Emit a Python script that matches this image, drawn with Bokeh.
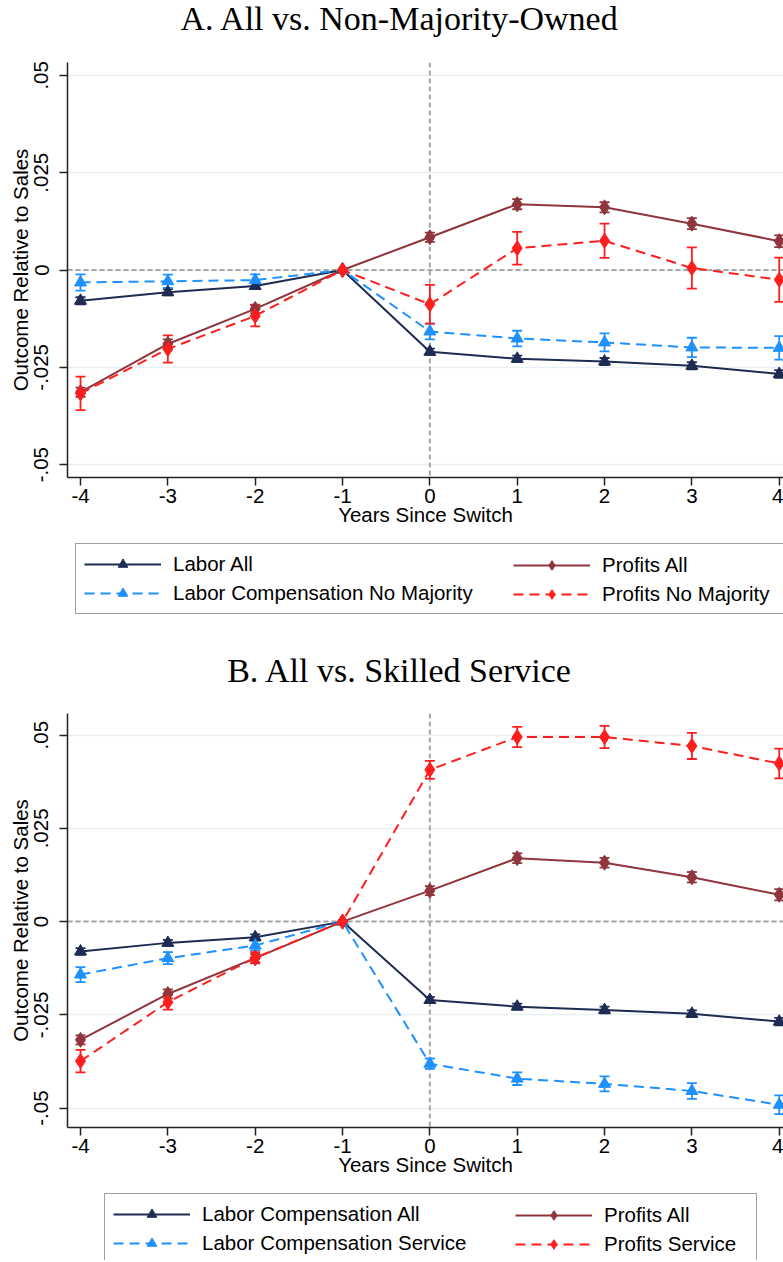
import math
from bokeh.plotting import figure
from bokeh.models import (ColumnDataSource, Range1d, FixedTicker, Span, Whisker, TeeHead,
                          Legend, LegendItem, Label)
from bokeh.layouts import column
from bokeh.embed import file_html
from bokeh.resources import INLINE

# ---------------- data ----------------
years = [-4, -3, -2, -1, 0, 1, 2, 3, 4]
x_tick_labels = ["-4", "-3", "-2", "-1", "0", "1", "2", "3", "4"]
y_ticks = [-0.05, -0.025, 0, 0.025, 0.05]
y_tick_labels = ["-.05", "-.025", "0", ".025", ".05"]
ref_value = 0
switch_year = 0

# Panel A: All vs. Non-Majority-Owned
a_labor_all = [-0.0079, -0.0057, -0.0041, 0, -0.0210, -0.0228, -0.0235, -0.0246, -0.0267]
a_labor_all_err = [0.0009, 0.0008, 0.0008, 0, 0.0008, 0.0008, 0.0009, 0.0009, 0.0010]
a_labor_nm = [-0.0032, -0.0029, -0.0026, 0, -0.0158, -0.0176, -0.0186, -0.0199, -0.0200]
a_labor_nm_err = [0.0021, 0.0017, 0.0015, 0, 0.0020, 0.0020, 0.0023, 0.0025, 0.0030]
a_profit_all = [-0.0314, -0.0190, -0.0100, 0, 0.0084, 0.0169, 0.0161, 0.0119, 0.0074]
a_profit_all_err = [0.0012, 0.0012, 0.0011, 0, 0.0012, 0.0013, 0.0013, 0.0014, 0.0015]
a_profit_nm = [-0.0317, -0.0203, -0.0118, 0, -0.0088, 0.0056, 0.0075, 0.0005, -0.0025]
a_profit_nm_err = [0.0043, 0.0035, 0.0027, 0, 0.0050, 0.0042, 0.0044, 0.0053, 0.0057]

# Panel B: All vs. Skilled Service
b_labor_all = [-0.0080, -0.0057, -0.0042, 0, -0.0210, -0.0228, -0.0237, -0.0247, -0.0268]
b_labor_all_err = [0.0009, 0.0008, 0.0008, 0, 0.0008, 0.0008, 0.0009, 0.0009, 0.0010]
b_labor_srv = [-0.0142, -0.0098, -0.0064, 0, -0.0381, -0.0421, -0.0435, -0.0454, -0.0491]
b_labor_srv_err = [0.0020, 0.0016, 0.0013, 0, 0.0014, 0.0017, 0.0020, 0.0021, 0.0025]
b_profit_all = [-0.0317, -0.0194, -0.0098, 0, 0.0083, 0.0170, 0.0158, 0.0119, 0.0072]
b_profit_all_err = [0.0012, 0.0012, 0.0011, 0, 0.0012, 0.0013, 0.0013, 0.0014, 0.0015]
b_profit_srv = [-0.0374, -0.0216, -0.0097, 0, 0.0407, 0.0495, 0.0495, 0.0471, 0.0424]
b_profit_srv_err = [0.0030, 0.0020, 0.0015, 0, 0.0024, 0.0027, 0.0030, 0.0035, 0.0040]

title_a = "A. All vs. Non-Majority-Owned"
title_b = "B. All vs. Skilled Service"

# ---------------- style ----------------
NAVY = "#1E2B52"
MAROON = "#8F353C"
BLUE = "#1E90FF"
RED = "#FF1E1E"
SANS = "Liberation Sans"
SERIF = "Liberation Serif"
FS = "20.5px"
W = 783
XR = (-4.149, 4.049)

series_a = [
    ("Labor All", a_labor_all, a_labor_all_err, NAVY, "solid", "triangle", 12),
    ("Labor Compensation No Majority", a_labor_nm, a_labor_nm_err, BLUE, "10 6", "triangle", 12),
    ("Profits All", a_profit_all, a_profit_all_err, MAROON, "solid", "diamond", 15),
    ("Profits No Majority", a_profit_nm, a_profit_nm_err, RED, "10 6", "diamond", 15),
]
series_b = [
    ("Labor Compensation All", b_labor_all, b_labor_all_err, NAVY, "solid", "triangle", 12),
    ("Labor Compensation Service", b_labor_srv, b_labor_srv_err, BLUE, "10 6", "triangle", 12),
    ("Profits All", b_profit_all, b_profit_all_err, MAROON, "solid", "diamond", 15),
    ("Profits Service", b_profit_srv, b_profit_srv_err, RED, "10 6", "diamond", 15),
]


def blank(height):
    f = figure(width=W, height=height, x_range=Range1d(*XR), y_range=Range1d(1, 2),
               output_backend="svg", toolbar_location=None,
               x_axis_location=None, y_axis_location=None,
               min_border_left=0, min_border_right=0, min_border_top=0, min_border_bottom=0)
    f.grid.visible = False
    f.outline_line_color = None
    f.background_fill_color = "white"
    f.border_fill_color = "white"
    return f


def draw_series(p, series, with_errors):
    pairs = []
    for label, vals, errs, color, dash, marker, msize in series:
        if with_errors:
            keep = [e > 0 for e in errs]
            wsrc = ColumnDataSource(dict(
                x=[x for x, k in zip(years, keep) if k],
                upper=[v + e for v, e, k in zip(vals, errs, keep) if k],
                lower=[v - e for v, e, k in zip(vals, errs, keep) if k]))
            p.add_layout(Whisker(source=wsrc, base="x", upper="upper", lower="lower",
                                 dimension="height", line_color=color, line_width=1.8,
                                 level="underlay",
                                 upper_head=TeeHead(size=10, line_color=color, line_width=1.8),
                                 lower_head=TeeHead(size=10, line_color=color, line_width=1.8)))
        src = ColumnDataSource(dict(x=years, y=vals))
        lr = p.line("x", "y", source=src, line_color=color, line_width=2, line_dash=dash)
        sr = p.scatter("x", "y", source=src, marker=marker, size=msize,
                       fill_color=color, line_color=color)
        pairs.append((label, lr, sr))
    return pairs


def add_legends(f, series, box_x, col2_x, leg_y, lw):
    # positions are relative to the (column-aligned) frame, whose left edge is at x=67
    pairs = draw_series(f, series, with_errors=False)
    items = [LegendItem(label=l, renderers=[lr, sr]) for l, lr, sr in pairs]
    common = dict(label_text_font=SANS, label_text_font_size=FS, label_text_color="black",
                  glyph_width=77, glyph_height=24, label_height=24, label_standoff=12,
                  padding=8, spacing=5, margin=0, orientation="vertical")
    leg1 = Legend(items=items[:2], location=(box_x, leg_y), label_width=lw,
                  border_line_color="#404040", border_line_width=1.5,
                  background_fill_color="white", background_fill_alpha=1.0, **common)
    leg2 = Legend(items=items[2:], location=(col2_x, leg_y),
                  border_line_alpha=0, background_fill_alpha=0, **common)
    f.add_layout(leg1, "center")
    f.add_layout(leg2, "center")


def add_title(f, text, y):
    f.add_layout(Label(x=332.5, y=y, x_units="screen", y_units="screen", text=text,
                       text_font=SERIF, text_font_size="34px", text_align="center",
                       text_baseline="middle", text_color="black"))


def panel(series, y_lim, height):
    p = figure(width=W, height=height,
               x_range=Range1d(*XR), y_range=Range1d(*y_lim),
               output_backend="svg", toolbar_location=None,
               min_border_left=67, min_border_right=0,
               min_border_top=10, min_border_bottom=59)
    p.outline_line_color = None
    p.background_fill_color = "white"
    p.border_fill_color = "white"

    p.xgrid.visible = False
    p.ygrid.ticker = FixedTicker(ticks=y_ticks)
    p.ygrid.grid_line_color = "#E8F0F2"
    p.ygrid.grid_line_width = 1.5

    for ax in (p.xaxis[0], p.yaxis[0]):
        ax.axis_line_color = "#222222"
        ax.axis_line_width = 1.5
        ax.major_tick_line_color = "#222222"
        ax.major_tick_line_width = 1.5
        ax.major_tick_out = 8
        ax.major_tick_in = 0
        ax.minor_tick_line_color = None
        ax.major_label_text_font = SANS
        ax.major_label_text_font_size = FS
        ax.major_label_text_color = "black"
        ax.axis_label_text_font = SANS
        ax.axis_label_text_font_size = FS
        ax.axis_label_text_font_style = "normal"
        ax.axis_label_text_color = "black"

    p.xaxis.ticker = FixedTicker(ticks=years)
    p.xaxis.major_label_overrides = dict(zip(years, x_tick_labels))
    p.xaxis.major_label_standoff = 3
    p.xaxis.axis_label = "Years Since Switch"
    p.xaxis.axis_label_standoff = -3

    p.yaxis.ticker = FixedTicker(ticks=y_ticks)
    p.yaxis.major_label_overrides = dict(zip(y_ticks, y_tick_labels))
    p.yaxis.major_label_orientation = "parallel"
    p.yaxis.major_label_standoff = 11
    p.yaxis.axis_label = "Outcome Relative to Sales"
    p.yaxis.axis_label_standoff = 0

    p.add_layout(Span(location=ref_value, dimension="width", line_color="#A6A6A6",
                      line_width=2, line_dash="5 3", level="underlay"))
    p.add_layout(Span(location=switch_year, dimension="height", line_color="#A6A6A6",
                      line_width=2, line_dash="5 3", level="underlay"))
    draw_series(p, series, with_errors=True)
    return p


head = blank(52)
add_title(head, title_a, 34)

p1 = panel(series_a, (-0.0533, 0.0533), 484)

mid = blank(167)
add_legends(mid, series_a, 8, 438, 89, 620)
add_title(mid, title_b, 33)

p2 = panel(series_b, (-0.0552, 0.0558), 483)

foot = blank(74)
add_legends(foot, series_b, 37, 440, -4, 546)

layout = column(head, p1, mid, p2, foot)
open("out.html", "w").write(file_html(layout, INLINE))
